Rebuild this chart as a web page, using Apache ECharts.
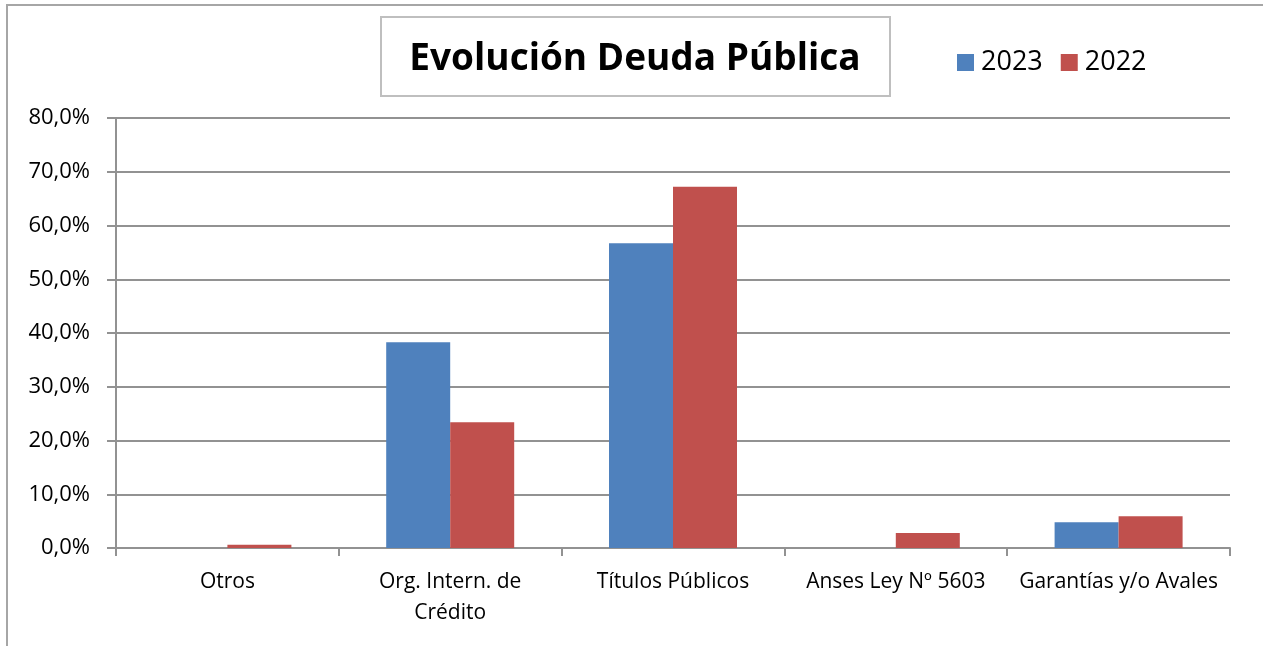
<!DOCTYPE html>
<html>
<head>
<meta charset="utf-8">
<script src="https://cdn.jsdelivr.net/npm/echarts@6/dist/echarts.min.js"></script>
<style>
  html, body { margin: 0; padding: 0; background: #fff; }
  #chart { width: 1263px; height: 646px; }
</style>
</head>
<body>
<div id="chart"></div>
<script>
// Data
const categories = ['Otros', 'Org. Intern. de Crédito', 'Títulos Públicos', 'Anses Ley Nº 5603', 'Garantías y/o Avales'];
const tickLabels = ['Otros', 'Org. Intern. de\nCrédito', 'Títulos Públicos', 'Anses Ley Nº 5603', 'Garantías y/o Avales'];
const values2023 = [0, 38.3, 56.7, 0, 4.8];
const values2022 = [0.6, 23.4, 67.2, 2.8, 5.9];

const fontFamily = '"Open Sans", Lato, sans-serif';
const gridColor = '#929292';

const chart = echarts.init(document.getElementById('chart'));

const option = {
    animation: false,
    textStyle: { fontFamily: fontFamily },
    title: {
        text: 'Evolución Deuda Pública',
        left: 630,
        top: 36,
        textAlign: 'center',
        textStyle: { fontSize: 37, fontWeight: 'bold', color: '#000', fontFamily: fontFamily },
    },
    legend: {
        data: ['2023', '2022'],
        left: 952,
        top: 44,
        itemWidth: 17,
        itemHeight: 17,
        itemGap: 18,
        icon: 'rect',
        textStyle: { fontSize: 27, color: '#000', padding: [0, 0, 0, 2] },
    },
    graphic: [
        {
            type: 'rect',
            shape: { x: 7, y: 5, width: 1300, height: 700 },
            style: { fill: 'none', stroke: '#a6a6a6', lineWidth: 2 },
            silent: true,
        },
        {
            type: 'rect',
            shape: { x: 381, y: 17, width: 509, height: 79 },
            style: { fill: 'none', stroke: '#bfbfbf', lineWidth: 2 },
            silent: true,
        },
    ],
    grid: {
        left: 116,
        right: 33,
        top: 118,
        bottom: 98,
        containLabel: false,
    },
    xAxis: {
        type: 'category',
        data: categories,
        axisLine: { lineStyle: { color: gridColor, width: 2 } },
        axisTick: { show: true, length: 8, lineStyle: { color: gridColor, width: 2 } },
        axisLabel: {
            interval: 0,
            margin: 19,
            fontSize: 21,
            lineHeight: 31,
            color: '#000',
            formatter: (value, idx) => tickLabels[idx],
        },
    },
    yAxis: {
        type: 'value',
        min: 0,
        max: 80,
        interval: 10,
        axisLine: { show: true, lineStyle: { color: gridColor, width: 2 } },
        axisTick: { show: true, length: 9, lineStyle: { color: gridColor, width: 2 } },
        splitLine: { lineStyle: { color: gridColor, width: 2 } },
        axisLabel: {
            margin: 26,
            fontSize: 22,
            color: '#000',
            formatter: v => v.toFixed(1).replace('.', ',') + '%',
        },
    },
    series: [
        {
            name: '2023',
            type: 'bar',
            data: values2023,
            barWidth: 64,
            barGap: '0%',
            itemStyle: { color: '#4f81bd' },
        },
        {
            name: '2022',
            type: 'bar',
            data: values2022,
            barWidth: 64,
            itemStyle: { color: '#c0504d' },
        },
    ],
};

chart.setOption(option);
</script>
</body>
</html>
